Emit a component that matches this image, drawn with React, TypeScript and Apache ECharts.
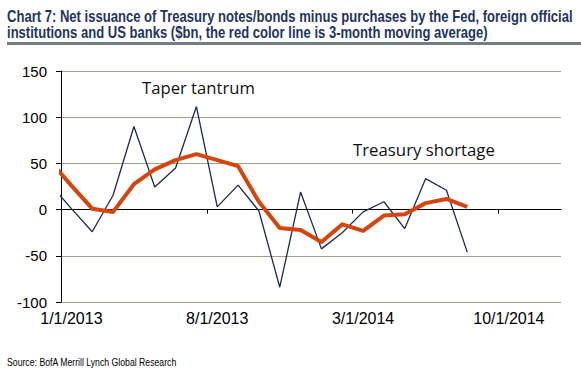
import React, { useEffect, useRef } from "react";
import * as echarts from "echarts";

// Months of the observations (YYYY-MM); points sit mid-month
const months = [
  "2012-12", "2013-01", "2013-02", "2013-03", "2013-04", "2013-05", "2013-06",
  "2013-07", "2013-08", "2013-09", "2013-10", "2013-11", "2013-12", "2014-01",
  "2014-02", "2014-03", "2014-04", "2014-05", "2014-06", "2014-07", "2014-08",
];
// Net issuance minus purchases ($bn)
const netIssuance = [
  27, 1, -24, 15.5, 90, 24.5, 45, 111.5, 3, 26.5, -1.5, -84, 19, -42.5, -25,
  -2.5, 8.5, -20.5, 33.5, 21, -46,
];
// 3-month moving average ($bn)
const movingAvg = [
  52, 26, 1, -2.5, 27.5, 43.5, 53.5, 60, 53.5, 47, 8.5, -20, -22, -35, -16, -23,
  -6.5, -5, 7, 11.5, 3,
];
// X tick labels (dates at ticks)
const xTickLabels = ["1/1/2013", "8/1/2013", "3/1/2014", "10/1/2014"];
const xEnd = "1/1/2015";
// Y axis
const yMin = -100;
const yMax = 150;
const yStep = 50;

const titleLines = [
  "Chart 7: Net issuance of Treasury notes/bonds minus purchases by the Fed, foreign official",
  "institutions and US banks ($bn, the red color line is 3-month moving average)",
];
const sourceText = "Source: BofA Merrill Lynch Global Research";
const annotations = ["Taper tantrum", "Treasury shortage"];

const baseYear = 2013;
const monthIndexFromMDY = (s: string) => {
  const [m, , y] = s.split("/").map(Number);
  return (y - baseYear) * 12 + (m - 1);
};
const monthPos = (s: string) => {
  const [y, m] = s.split("-").map(Number);
  return (y - baseYear) * 12 + (m - 1) + 0.5;
};
const tickMonths = xTickLabels.map(monthIndexFromMDY);
const labelPositions = tickMonths.map((t) => t + 0.5);
const xMax = monthIndexFromMDY(xEnd);

const measure = (text: string, font: string) => {
  const ctx = document.createElement("canvas").getContext("2d");
  if (!ctx) return 1;
  ctx.font = font;
  return ctx.measureText(text).width || 1;
};

export default function App() {
  const ref = useRef<HTMLDivElement>(null);
  useEffect(() => {
    if (!ref.current) return;
    const chart = echarts.init(ref.current, undefined, { renderer: "svg" });
    const labelFont = "'Liberation Sans', Arial, sans-serif";
    const titleFont = "bold 16px 'Liberation Sans', Arial, sans-serif";
    const srcFont = "10px 'Liberation Sans', Arial, sans-serif";
    const annFont = "16px 'Open Sans', sans-serif";

    const textEl = (text: string, font: string, x: number, y: number, scaleX: number, fill: string) => ({
      type: "text",
      x,
      y,
      scaleX,
      style: { text, font, fill, align: "left", verticalAlign: "middle" },
    });
    const fitText = (text: string, font: string, x: number, y: number, width: number, fill: string) =>
      textEl(text, font, x, y, width / measure(text, font), fill);

    const titleScale = 566 / measure(titleLines[0], titleFont);

    chart.setOption({
      animation: false,
      backgroundColor: "#ffffff",
      grid: { left: 61, top: 71, right: 20, bottom: 74 },
      xAxis: [
        {
          type: "value",
          min: 0,
          max: xMax,
          position: "bottom",
          axisLine: { show: true, onZero: true, lineStyle: { color: "#000", width: 1 } },
          axisTick: { show: true, inside: false, length: 4, customValues: tickMonths, lineStyle: { color: "#000" } },
          axisLabel: { show: false },
          splitLine: { show: false },
        },
        {
          type: "value",
          min: 0,
          max: xMax,
          position: "bottom",
          axisLine: { show: false, onZero: false },
          axisTick: { show: false },
          splitLine: { show: false },
          axisLabel: {
            show: true,
            customValues: labelPositions,
            margin: 8,
            color: "#000",
            fontSize: 16,
            fontFamily: labelFont,
            formatter: (v: number) => {
              const i = labelPositions.findIndex((p) => Math.abs(p - v) < 1e-6);
              return i >= 0 ? xTickLabels[i] : "";
            },
          },
        },
      ],
      yAxis: {
        type: "value",
        min: yMin,
        max: yMax,
        interval: yStep,
        axisLine: { show: true, lineStyle: { color: "#000", width: 1 } },
        axisTick: { show: true, inside: false, length: 5, lineStyle: { color: "#000" } },
        axisLabel: { color: "#000", fontSize: 15, fontFamily: labelFont, margin: 14 },
        splitLine: { show: true, lineStyle: { color: "#a39e86", width: 1 } },
      },
      series: [
        {
          type: "line",
          xAxisIndex: 0,
          data: months.map((m, i) => [monthPos(m), netIssuance[i]]),
          symbol: "none",
          clip: true,
          lineStyle: { color: "#1c2a4d", width: 1.3 },
          z: 3,
        },
        {
          type: "line",
          xAxisIndex: 0,
          data: months.map((m, i) => [monthPos(m), movingAvg[i]]),
          symbol: "none",
          clip: true,
          lineStyle: { color: "#d6450c", width: 4, join: "round" },
          z: 4,
        },
      ],
      graphic: [
        textEl(titleLines[0], titleFont, 7, 17, titleScale, "#1f3560"),
        textEl(titleLines[1], titleFont, 7, 33, titleScale, "#1f3560"),
        {
          type: "rect",
          shape: { x: 7, y: 42, width: 574, height: 3 },
          style: { fill: "#6f8085" },
        },
        fitText(annotations[0], annFont, 142, 88, 113, "#111"),
        fitText(annotations[1], annFont, 353, 149.5, 142, "#111"),
        fitText(sourceText, srcFont, 7, 362.5, 170, "#000"),
      ],
    });
    return () => chart.dispose();
  }, []);
  return (
    <div
      ref={ref}
      style={{ position: "fixed", left: 0, top: 0, width: 581, height: 376, background: "#fff" }}
    />
  );
}
